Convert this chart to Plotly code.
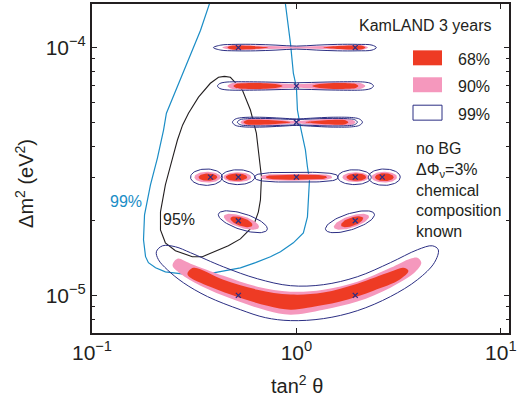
import numpy as np
import plotly.graph_objects as go

FONT = "Liberation Sans, Arial, sans-serif"
RED = "#ee3b24"
PINK = "#f598bd"
NAVY = "#2b2e83"
CYAN = "#1b8dc6"
BLACK = "#231f20"

# ---------------- data ----------------
# best-fit (true) points
bf_tan2 = [0.52, 1.94, 1.0, 1.0, 0.38, 0.52, 1.0, 1.94, 2.63, 0.52, 1.94, 0.52, 1.94]
bf_dm2 = [1e-4, 1e-4, 7e-5, 5e-5, 3e-5, 3e-5, 3e-5, 3e-5, 3e-5, 2e-5, 2e-5, 1e-5, 1e-5]

# solar 99% contour (cyan), log10 values
cyan99_log_tan2 = [-0.425, -0.469, -0.636, -0.650, -0.680, -0.714, -0.743, -0.748, -0.738, -0.724,
                   -0.689, -0.641, -0.518, -0.406, -0.274, -0.200, -0.127, -0.078, -0.015, 0.034,
                   0.054, 0.059, 0.064, 0.054, 0.044, 0.020, 0.005, 0.000, -0.015, -0.029, -0.054]
cyan99_log_dm2 = [-3.822, -3.930, -4.265, -4.333, -4.446, -4.554, -4.675, -4.776, -4.844, -4.868,
                  -4.889, -4.905, -4.917, -4.909, -4.889, -4.868, -4.844, -4.824, -4.788, -4.748,
                  -4.683, -4.615, -4.534, -4.482, -4.413, -4.321, -4.252, -4.160, -4.103, -3.983, -3.822]

# solar 95% contour (black), log10 values
black95_log_tan2 = [-0.352, -0.323, -0.264, -0.225, -0.196, -0.181, -0.171, -0.176, -0.186, -0.210,
                    -0.274, -0.333, -0.401, -0.460, -0.509, -0.592, -0.641, -0.665, -0.665, -0.641,
                    -0.606, -0.582, -0.557, -0.528, -0.479, -0.421, -0.381, -0.352]
black95_log_dm2 = [-4.116, -4.120, -4.172, -4.252, -4.345, -4.442, -4.522, -4.615, -4.663, -4.719,
                   -4.772, -4.800, -4.824, -4.844, -4.844, -4.820, -4.788, -4.736, -4.663, -4.554,
                   -4.446, -4.373, -4.313, -4.265, -4.200, -4.144, -4.120, -4.116]

# banana-shaped region around dm2 = 1e-5 (log10 values)
ban99_log_tan2 = [-0.685, -0.655, -0.592, -0.518, -0.357, -0.191, -0.029, 0.132, 0.298, 0.460, 0.592,
                  0.665, 0.694, 0.675, 0.592, 0.460, 0.298, 0.132, -0.029, -0.152, -0.274, -0.435,
                  -0.553, -0.631, -0.675, -0.685]
ban99_log_dm2 = [-4.824, -4.800, -4.804, -4.828, -4.885, -4.933, -4.961, -4.957, -4.925, -4.868, -4.816,
                 -4.800, -4.816, -4.868, -4.937, -5.005, -5.062, -5.094, -5.102, -5.090, -5.058, -5.005,
                 -4.949, -4.897, -4.856, -4.824]
ban90_log_tan2 = [-0.606, -0.582, -0.518, -0.357, -0.191, -0.029, 0.132, 0.298, 0.460, 0.557, 0.592,
                  0.611, 0.582, 0.460, 0.298, 0.132, -0.029, -0.142, -0.308, -0.469, -0.567, -0.606]
ban90_log_dm2 = [-4.880, -4.852, -4.872, -4.921, -4.965, -4.985, -4.977, -4.945, -4.889, -4.852, -4.848,
                 -4.868, -4.905, -4.969, -5.025, -5.058, -5.078, -5.062, -5.017, -4.961, -4.913, -4.880]
ban68_log_tan2 = [-0.533, -0.504, -0.357, -0.191, -0.029, 0.132, 0.298, 0.460, 0.523, 0.548,
                  0.504, 0.377, 0.215, 0.054, -0.029, -0.142, -0.308, -0.469, -0.518, -0.533]
ban68_log_dm2 = [-4.913, -4.889, -4.937, -4.977, -4.997, -4.989, -4.953, -4.905, -4.889, -4.901,
                 -4.937, -4.981, -5.025, -5.050, -5.058, -5.042, -5.001, -4.949, -4.929, -4.913]

# horizontal bands: (profile x positions in log10 tan2, half thickness in decades)
row1_dm2 = 1e-4
row1_99 = ([-0.406, -0.37, -0.30, -0.20, -0.10, 0.0, 0.10, 0.20, 0.30, 0.37, 0.391],
           [0, 0.010, 0.013, 0.013, 0.010, 0.006, 0.010, 0.013, 0.013, 0.010, 0])
row1_90 = ([-0.362, -0.33, -0.27, -0.18, -0.09, 0.0, 0.09, 0.18, 0.27, 0.33, 0.35],
           [0, 0.008, 0.010, 0.008, 0.005, 0.004, 0.005, 0.008, 0.010, 0.008, 0])
row1_68a = ([-0.337, -0.32, -0.28, -0.21, -0.137], [0, 0.007, 0.008, 0.006, 0])
row1_68b = ([0.132, 0.20, 0.27, 0.32, 0.337], [0, 0.006, 0.008, 0.007, 0])

row2_dm2 = 7e-5
row2_99 = ([-0.386, -0.375, -0.35, -0.30, -0.15, 0.0, 0.15, 0.30, 0.34, 0.365, 0.377],
           [0, 0.010, 0.015, 0.017, 0.016, 0.013, 0.016, 0.017, 0.015, 0.010, 0])
row2_90 = ([-0.337, -0.32, -0.28, -0.15, -0.05, 0.0, 0.05, 0.15, 0.28, 0.32, 0.337],
           [0, 0.010, 0.014, 0.014, 0.009, 0.007, 0.009, 0.014, 0.014, 0.010, 0])
row2_68a = ([-0.308, -0.295, -0.26, -0.15, -0.09, -0.068], [0, 0.008, 0.011, 0.011, 0.006, 0])
row2_68b = ([0.078, 0.10, 0.16, 0.25, 0.29, 0.303], [0, 0.006, 0.011, 0.011, 0.008, 0])

row3_dm2 = 5e-5
row3_99 = ([-0.313, -0.30, -0.27, -0.18, -0.07, 0.0, 0.07, 0.18, 0.28, 0.31, 0.323],
           [0, 0.012, 0.018, 0.020, 0.016, 0.013, 0.016, 0.020, 0.018, 0.012, 0])
row3_99b = ([-0.289, -0.275, -0.24, -0.15, 0.0, 0.15, 0.25, 0.285, 0.298],
            [0, 0.010, 0.014, 0.015, 0.011, 0.015, 0.014, 0.010, 0])
row3_90 = ([-0.274, -0.26, -0.22, -0.12, -0.04, 0.0, 0.04, 0.12, 0.22, 0.275, 0.289],
           [0, 0.009, 0.013, 0.012, 0.007, 0.005, 0.007, 0.012, 0.013, 0.009, 0])
row3_68a = ([-0.259, -0.245, -0.20, -0.12, -0.06, -0.029], [0, 0.008, 0.010, 0.008, 0.004, 0])
row3_68b = ([0.044, 0.08, 0.14, 0.21, 0.24, 0.254], [0, 0.004, 0.008, 0.010, 0.008, 0])

# elliptic islands: (center log tan2, center log dm2, half-width, half-height, shear, shape power)
isl99 = [(-0.440, -4.523, 0.078, 0.033, 0, 2), (-0.286, -4.523, 0.082, 0.030, 0, 2),
         (0.000, -4.523, 0.203, 0.020, 0, 3), (0.284, -4.523, 0.082, 0.030, 0, 2),
         (0.430, -4.523, 0.078, 0.033, 0, 2),
         (-0.262, -4.703, 0.120, 0.034, -0.236, 2), (0.262, -4.703, 0.120, 0.034, 0.236, 2)]
isl90 = [(-0.435, -4.523, 0.064, 0.022, 0, 2), (-0.289, -4.523, 0.068, 0.020, 0, 2),
         (0.000, -4.523, 0.174, 0.014, 0, 3), (0.289, -4.523, 0.064, 0.020, 0, 2),
         (0.430, -4.523, 0.062, 0.022, 0, 2),
         (-0.269, -4.703, 0.086, 0.025, -0.236, 2), (0.269, -4.703, 0.086, 0.025, 0.236, 2)]
isl68 = [(-0.433, -4.523, 0.046, 0.015, 0, 2), (-0.293, -4.523, 0.052, 0.015, 0, 2),
         (0.000, -4.523, 0.149, 0.010, 0, 3), (0.293, -4.523, 0.048, 0.015, 0, 2),
         (0.430, -4.523, 0.046, 0.016, 0, 2),
         (-0.269, -4.703, 0.054, 0.018, -0.236, 2), (0.272, -4.703, 0.054, 0.018, 0.236, 2)]


# ---------------- helpers ----------------
def band(profile, row_dm2):
    xs, hs = np.array(profile[0]), np.array(profile[1])
    cy = np.log10(row_dm2)
    X = np.concatenate([xs, xs[::-1][1:-1], xs[:1]])
    Y = np.concatenate([cy + hs, cy - hs[::-1][1:-1], [cy + hs[0]]])
    return 10 ** X, 10 ** Y


def island(p, n=72):
    cx, cy, rx, ry, k, pw_ = p
    t = np.linspace(0, 2 * np.pi, n)
    c, s = np.cos(t), np.sin(t)
    dx = rx * np.sign(c) * np.abs(c) ** (2 / pw_)
    dy = ry * np.sign(s) * np.abs(s) ** (2 / pw_)
    return 10 ** (cx + dx), 10 ** (cy + dy + k * dx)


fig = go.Figure()


def poly(x, y, fillcolor=None, linecolor=None, width=1.1, shape="spline"):
    fig.add_trace(go.Scatter(
        x=x, y=y, mode="lines", hoverinfo="skip", showlegend=False,
        fill="toself" if fillcolor else "none",
        fillcolor=fillcolor,
        line=dict(color=linecolor or "rgba(0,0,0,0)", width=width if linecolor else 0,
                  shape=shape, smoothing=1.0 if shape == "spline" else None),
    ))


# solar contours
poly(10 ** np.array(cyan99_log_tan2), 10 ** np.array(cyan99_log_dm2), linecolor=CYAN, width=1.2, shape="linear")
poly(10 ** np.array(black95_log_tan2), 10 ** np.array(black95_log_dm2), linecolor=BLACK, width=1.1, shape="linear")

# 90% fills
for prof, r in [(row1_90, row1_dm2), (row2_90, row2_dm2), (row3_90, row3_dm2)]:
    poly(*band(prof, r), fillcolor=PINK)
for p in isl90:
    poly(*island(p), fillcolor=PINK, shape="linear")
poly(10 ** np.array(ban90_log_tan2), 10 ** np.array(ban90_log_dm2), fillcolor=PINK)

# 68% fills
for prof, r in [(row1_68a, row1_dm2), (row1_68b, row1_dm2), (row2_68a, row2_dm2), (row2_68b, row2_dm2),
                (row3_68a, row3_dm2), (row3_68b, row3_dm2)]:
    poly(*band(prof, r), fillcolor=RED)
for p in isl68:
    poly(*island(p), fillcolor=RED, shape="linear")
poly(10 ** np.array(ban68_log_tan2), 10 ** np.array(ban68_log_dm2), fillcolor=RED)

# 99% outlines
for prof, r in [(row1_99, row1_dm2), (row2_99, row2_dm2), (row3_99, row3_dm2), (row3_99b, row3_dm2)]:
    poly(*band(prof, r), linecolor=NAVY, width=1.0)
for p in isl99:
    poly(*island(p), linecolor=NAVY, width=1.0, shape="linear")
poly(10 ** np.array(ban99_log_tan2), 10 ** np.array(ban99_log_dm2), linecolor=NAVY, width=1.0)

# best-fit markers
fig.add_trace(go.Scatter(
    x=bf_tan2, y=bf_dm2, mode="markers", hoverinfo="skip", showlegend=False,
    marker=dict(symbol="x-thin", size=5, line=dict(width=1.3, color=NAVY)),
))

# ---------------- layout ----------------
L, R, T, B = 92, 10, 3.5, 66.5
W, H = 519, 400
PW, PH = W - L - R, H - T - B


def px(x):
    return (x - L) / PW


def py(y):
    return (H - B - y) / PH


axis_common = dict(
    showline=True, linewidth=2, linecolor=BLACK, mirror="ticks",
    ticks="inside", ticklen=5, tickwidth=1, tickcolor=BLACK,
    showgrid=False, zeroline=False, automargin=False,
    tickfont=dict(family=FONT, size=21, color=BLACK),
)

fig.update_layout(
    width=W, height=H,
    margin=dict(l=L, r=R, t=T, b=B, autoexpand=False),
    paper_bgcolor="white", plot_bgcolor="white",
    font=dict(family=FONT, color=BLACK),
    xaxis=dict(type="log", range=[-1, 1.04],
               tickvals=[0.1, 1, 10],
               ticktext=["10<sup>\u22121</sup>", "10<sup>0</sup>", "10<sup>1</sup>"],
               **axis_common),
    yaxis=dict(type="log", range=[-5.152, -3.824],
               tickvals=[1e-5, 1e-4],
               ticktext=["10<sup>\u22125</sup>", "10<sup>\u22124</sup>"],
               minor=dict(tickvals=[8e-6, 9e-6, 2e-5, 3e-5, 4e-5, 5e-5, 6e-5, 7e-5, 8e-5, 9e-5],
                          ticks="inside", ticklen=3, tickcolor=BLACK, tickwidth=1),
               **axis_common),
)


def text_at(x, y, text, size=16, color=BLACK, xanchor="center", angle=0, align="center"):
    return dict(x=px(x), y=py(y), xref="paper", yref="paper", showarrow=False,
                xanchor=xanchor, yanchor="middle", align=align, textangle=angle,
                text=text, font=dict(size=size, family=FONT, color=color))


ann = [
    text_at(25, 184, "\u0394m<sup>2</sup> (eV<sup>2</sup>)", size=20, angle=-90),
    text_at(297, 385, "tan<sup>2</sup> \u03b8", size=20),
    text_at(494, 25, "KamLAND 3 years", size=16, xanchor="right"),
    text_at(414, 190, "no BG<br>\u0394\u03a6<sub>\u03bd</sub>=3%<br>chemical<br>composition<br>known",
            xanchor="left", align="left"),
    text_at(126, 202, "99%", color=CYAN),
    text_at(179, 220, "95%"),
]
for label, yc in [("68%", 59), ("90%", 86), ("99%", 114)]:
    ann.append(text_at(456, yc, label, xanchor="left"))
fig.update_layout(annotations=ann)

shapes = [
    dict(type="rect", xref="paper", yref="paper", x0=px(413), x1=px(442), y0=py(65), y1=py(50),
         fillcolor=RED, line=dict(width=0)),
    dict(type="rect", xref="paper", yref="paper", x0=px(413), x1=px(442), y0=py(92), y1=py(77),
         fillcolor=PINK, line=dict(width=0)),
    dict(type="rect", xref="paper", yref="paper", x0=px(413), x1=px(442), y0=py(120), y1=py(105),
         fillcolor="white", line=dict(width=1, color=NAVY)),
]
fig.update_layout(shapes=shapes)

fig.write_html("out.html", config={"displayModeBar": False},
               post_script="document.body.style.margin='0';document.body.style.padding='0';")
